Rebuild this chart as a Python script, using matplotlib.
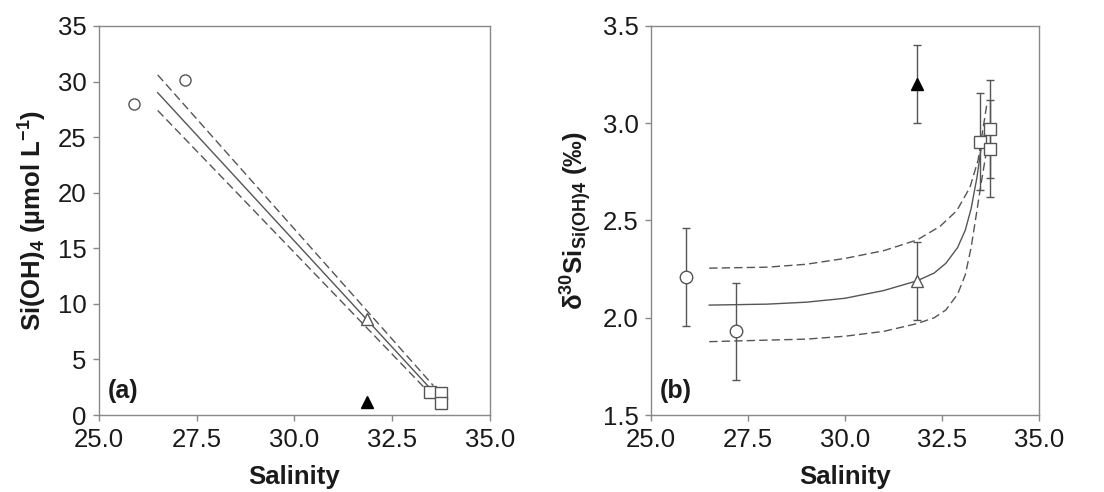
import matplotlib
matplotlib.use("Agg")
import matplotlib.pyplot as plt

plt.rcParams['font.family'] = ['Liberation Sans', 'DejaVu Sans']
plt.rcParams['mathtext.fontset'] = 'custom'
plt.rcParams['mathtext.rm'] = 'Liberation Sans:bold'
plt.rcParams['mathtext.bf'] = 'Liberation Sans:bold'
plt.rcParams['mathtext.it'] = 'Liberation Sans:bold'

# ---- data ----
sal_circle = [25.9, 27.2]
sal_tri_open = [31.85]
sal_tri_filled = [31.85]
sal_square = [33.47, 33.75, 33.75]

si_circle = [27.95, 30.1]
si_tri_open = [8.6]
si_tri_filled = [1.2]
si_square = [2.05, 1.95, 1.05]

# regression line and band (panel a)
reg_x = [26.5, 33.47]
reg_y = [29.0, 2.4]
reg_up_x = [26.5, 33.55]
reg_up_y = [30.6, 2.65]
reg_lo_x = [26.5, 33.38]
reg_lo_y = [27.4, 2.25]

d30_circle = [2.21, 1.93]
d30_circle_err = [0.25, 0.25]
d30_tri_open = [2.19]
d30_tri_open_err = [0.2]
d30_tri_filled = [3.20]
d30_tri_filled_err = [0.2]
d30_square = [2.905, 2.97, 2.87]
d30_square_err = [0.25, 0.25, 0.25]

# mixing model curves (panel b)
mix_x = [26.5, 28.0, 29.0, 30.0, 31.0, 31.86, 32.3, 32.6, 32.9, 33.1, 33.25, 33.4, 33.5, 33.6]
mix_y = [2.065, 2.07, 2.08, 2.10, 2.14, 2.19, 2.23, 2.28, 2.36, 2.45, 2.56, 2.72, 2.86, 2.95]
mix_up_x = [26.5, 28.0, 29.0, 30.0, 31.0, 31.86, 32.45, 32.88, 33.22, 33.43, 33.65]
mix_up_y = [2.255, 2.26, 2.275, 2.305, 2.345, 2.40, 2.47, 2.55, 2.67, 2.81, 3.09]
mix_lo_x = [26.5, 28.0, 29.0, 30.0, 31.0, 31.86, 32.3, 32.6, 32.9, 33.1, 33.25, 33.4, 33.5, 33.65]
mix_lo_y = [1.877, 1.885, 1.89, 1.905, 1.93, 1.97, 2.0, 2.04, 2.12, 2.22, 2.36, 2.55, 2.68, 2.86]

xticks = [25.0, 27.5, 30.0, 32.5, 35.0]
xticklabels = ['25.0', '27.5', '30.0', '32.5', '35.0']

# ---- style ----
edge = '#555555'
linec = '#555555'
spinec = '#888888'
textc = '#1a1a1a'
tick_fs = 18.5
lab_fs = 18.5

fig = plt.figure(figsize=(11.04, 4.92), dpi=100)
axa = fig.add_axes([0.0897, 0.1565, 0.3541, 0.7907])
axb = fig.add_axes([0.5897, 0.1565, 0.3514, 0.7907])

def style(ax):
    for s in ax.spines.values():
        s.set_color(spinec)
        s.set_linewidth(1.0)
    ax.tick_params(axis='both', direction='out', length=4, width=1, color=spinec,
                   labelsize=tick_fs, labelcolor=textc, pad=5)
    ax.tick_params(top=False, right=False)
    ax.set_xlim(25, 35)
    ax.set_xticks(xticks)
    ax.set_xticklabels(xticklabels)
    ax.set_xlabel('Salinity', fontsize=lab_fs, fontweight='bold', color=textc, labelpad=10)

mk = dict(linestyle='none', markeredgecolor=edge, markeredgewidth=1.0, zorder=5)

# panel a
ax = axa
ax.plot(reg_x, reg_y, color=linec, lw=1.0, zorder=2)
ax.plot(reg_up_x, reg_up_y, color=linec, lw=1.0, ls=(0, (6, 3)), zorder=2)
ax.plot(reg_lo_x, reg_lo_y, color=linec, lw=1.0, ls=(0, (6, 3)), zorder=2)
ax.plot(sal_circle, si_circle, marker='o', markersize=8, markerfacecolor='white', **mk)
ax.plot(sal_tri_open, si_tri_open, marker='^', markersize=9, markerfacecolor='white', **mk)
ax.plot(sal_tri_filled, si_tri_filled, marker='^', markersize=8, markerfacecolor='black',
        linestyle='none', markeredgecolor='black', zorder=5)
ax.plot(sal_square, si_square, marker='s', markersize=8.5, markerfacecolor='white', **mk)
style(ax)
ax.set_ylim(0, 35)
ax.set_yticks([0, 5, 10, 15, 20, 25, 30, 35])
ax.set_ylabel(r'Si(OH)$_{4}$ (µmol L$^{-1}$)', fontsize=lab_fs, fontweight='bold',
              color=textc, labelpad=6)
ax.text(0.022, 0.03, '(a)', transform=ax.transAxes, fontsize=18, fontweight='bold',
        color=textc, ha='left', va='bottom')

# panel b
ax = axb
ax.plot(mix_x, mix_y, color=linec, lw=1.0, zorder=2)
ax.plot(mix_up_x, mix_up_y, color=linec, lw=1.0, ls=(0, (6, 3)), zorder=2)
ax.plot(mix_lo_x, mix_lo_y, color=linec, lw=1.0, ls=(0, (6, 3)), zorder=2)
eb = dict(fmt='none', ecolor=linec, elinewidth=1.0, capsize=3, capthick=1.0, zorder=3)
ax.errorbar(sal_circle, d30_circle, yerr=d30_circle_err, **eb)
ax.errorbar(sal_tri_open, d30_tri_open, yerr=d30_tri_open_err, **eb)
ax.errorbar(sal_tri_filled, d30_tri_filled, yerr=d30_tri_filled_err, **eb)
ax.errorbar(sal_square, d30_square, yerr=d30_square_err, **eb)
ax.plot(sal_circle, d30_circle, marker='o', markersize=9, markerfacecolor='white', **mk)
ax.plot(sal_tri_open, d30_tri_open, marker='^', markersize=9, markerfacecolor='white', **mk)
ax.plot(sal_tri_filled, d30_tri_filled, marker='^', markersize=9, markerfacecolor='black',
        linestyle='none', markeredgecolor='black', zorder=5)
ax.plot(sal_square, d30_square, marker='s', markersize=8.5, markerfacecolor='white', **mk)
style(ax)
ax.set_ylim(1.5, 3.5)
ax.set_yticks([1.5, 2.0, 2.5, 3.0, 3.5])
ax.set_yticklabels(['1.5', '2.0', '2.5', '3.0', '3.5'])
ax.set_ylabel(r'δ$^{30}$Si$_{Si(OH)4}$ (‰)', fontsize=lab_fs, fontweight='bold',
              color=textc, labelpad=6)
ax.text(0.022, 0.03, '(b)', transform=ax.transAxes, fontsize=18, fontweight='bold',
        color=textc, ha='left', va='bottom')

fig.savefig('out.png', dpi=100)
